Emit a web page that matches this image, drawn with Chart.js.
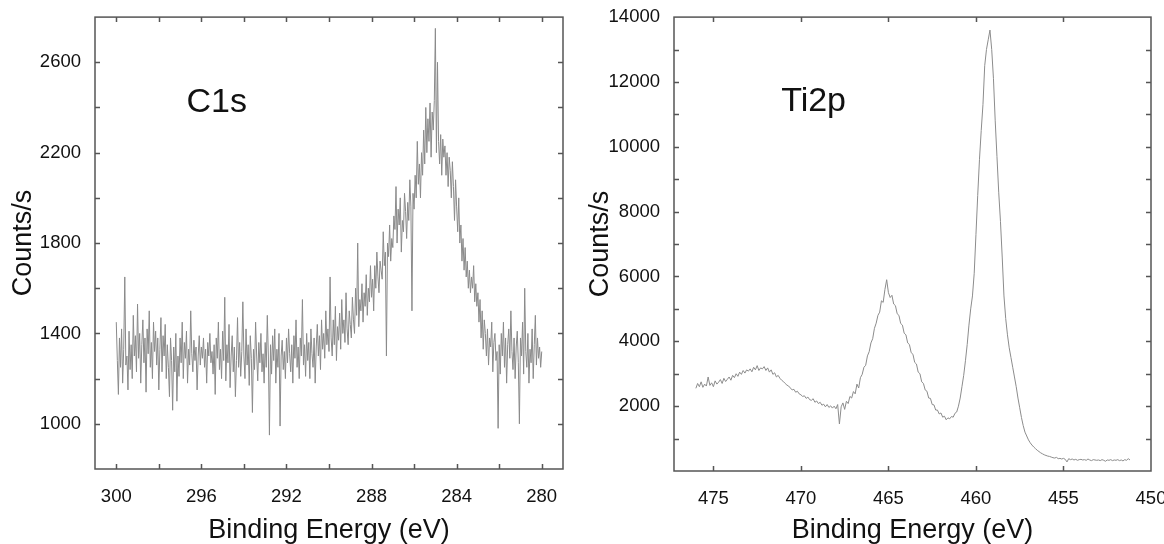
<!DOCTYPE html>
<html>
<head>
<meta charset="utf-8">
<script src="https://cdn.jsdelivr.net/npm/chart.js@4.4.1/dist/chart.umd.min.js"></script>
<style>
  html, body { margin: 0; padding: 0; background: #fff; width: 1164px; height: 544px; overflow: hidden; position: relative; }
  #leftBox { position: absolute; left: 0; top: 0; width: 580px; height: 544px; }
  #rightBox { position: absolute; left: 580px; top: 0; width: 600px; height: 544px; }
</style>
</head>
<body>
<div id="leftBox"><canvas id="c1s" width="580" height="544"></canvas></div>
<div id="rightBox"><canvas id="ti2p" width="600" height="544"></canvas></div>
<script>
// ---------- C1s data (binding energy 300.00 -> 280.00 eV, 0.05 eV steps) ----------
const c1sStart = 300.0;
const c1sStep = -0.05;
const c1sCounts = [
  1450, 1280, 1130, 1380, 1250, 1420, 1180, 1330, 1650, 1260, 1300, 1150, 1410, 1240, 1350, 1200, 1480, 1300, 1390, 1230,
  1530, 1290, 1400, 1180, 1350, 1460, 1270, 1380, 1140, 1420, 1310, 1500, 1250, 1360, 1200, 1450, 1320, 1410, 1260, 1380,
  1150, 1330, 1470, 1230, 1390, 1300, 1440, 1200, 1350, 1250, 1120, 1380, 1280, 1060, 1340, 1230, 1400, 1100, 1300, 1210,
  1380, 1270, 1450, 1200, 1360, 1290, 1410, 1180, 1330, 1260, 1500, 1310, 1230, 1370, 1280, 1340, 1150, 1300, 1390, 1260,
  1340, 1290, 1380, 1250, 1330, 1180, 1360, 1300, 1400, 1270, 1320, 1220, 1350, 1130, 1380, 1290, 1450, 1240, 1330, 1200,
  1410, 1280, 1560, 1190, 1350, 1270, 1440, 1160, 1300, 1390, 1230, 1340, 1120, 1280, 1470, 1250, 1360, 1210, 1320, 1540,
  1300, 1200, 1420, 1260, 1350, 1170, 1390, 1290, 1050, 1330, 1240, 1450, 1300, 1190, 1360, 1270, 1400, 1230, 1310, 1180,
  1360, 1250, 1480, 1300, 950, 1350, 1220, 1390, 1280, 1420, 1180, 1330, 1250, 1400, 990, 1300, 1370, 1240, 1320, 1200,
  1380, 1270, 1420, 1310, 1230, 1350, 1180, 1390, 1290, 1460, 1250, 1340, 1200, 1380, 1300, 1550, 1260, 1350, 1210, 1400,
  1280, 1360, 1200, 1420, 1310, 1250, 1380, 1180, 1340, 1440, 1300, 1390, 1240, 1460, 1330, 1400, 1290, 1500, 1350, 1420,
  1320, 1650, 1380, 1300, 1460, 1350, 1520, 1280, 1430, 1370, 1490, 1330, 1550, 1400, 1460, 1360, 1580, 1420, 1350, 1500,
  1440, 1380, 1560, 1460, 1400, 1600, 1480, 1800, 1430, 1550, 1500, 1620, 1450, 1580, 1520, 1660, 1480, 1600, 1540, 1700,
  1560, 1640, 1500, 1700, 1600, 1760, 1650, 1580, 1720, 1680, 1640, 1850, 1700, 1760, 1300, 1800, 1740, 1880, 1720, 1820,
  1780, 1920, 1860, 2050, 1800, 1950, 1880, 2000, 1760, 1900, 1850, 2020, 1940, 1820, 1980, 1900, 2080, 1960, 1500, 2020,
  1950, 2100, 2000, 2250, 2060, 2150, 2000, 2200, 2100, 2300, 2150, 2400, 2200, 2350, 2250, 2420, 2180, 2380, 2300, 2430,
  2750, 2200, 2600, 2250, 2150, 2280, 2100, 2260, 2180, 2230, 2100, 2200, 2050, 2180, 2120, 2000, 2160, 2050, 1900, 2080,
  1960, 1850, 2000, 1800, 1880, 1720, 1820, 1680, 1780, 1650, 1720, 1600, 1680, 1580, 1650, 1600, 1700, 1540, 1620, 1520,
  1580, 1450, 1550, 1380, 1500, 1330, 1460, 1400, 1300, 1420, 1260, 1380, 1340, 1450, 1230, 1360, 1400, 1280, 1320, 980,
  1350, 1220, 1400, 1300, 1450, 1250, 1380, 1180, 1350, 1420, 1290, 1500, 1320, 1240, 1380, 1200, 1340, 1410, 1270, 1000,
  1380, 1300, 1450, 1220, 1600, 1320, 1250, 1400, 1180, 1330, 1270, 1420, 1200, 1350, 1480, 1260, 1380, 1290, 1340, 1250,
  1320
];
const c1sXTicks = [280, 282, 284, 286, 288, 290, 292, 294, 296, 298, 300];
const c1sXLabels = [280, 284, 288, 292, 296, 300];
const c1sYTicks = [1000, 1200, 1400, 1600, 1800, 2000, 2200, 2400, 2600];
const c1sYLabels = [1000, 1400, 1800, 2200, 2600];

// ---------- Ti2p data (binding energy 476.0 -> 451.2 eV, 0.1 eV steps) ----------
const tiStart = 476.0;
const tiStep = -0.1;
const tiCounts = [
  2550, 2700, 2600, 2750, 2580, 2680, 2620, 2900, 2640, 2720,
  2600, 2780, 2680, 2740, 2820, 2700, 2860, 2760, 2830, 2900,
  2800, 2950, 2880, 3000, 2920, 3050, 2980, 3100, 3020, 3120,
  3080, 3150, 3060, 3200, 3120, 3250, 3100, 3180, 3150, 3220,
  3100, 3180, 3050, 3120, 2980, 3030, 2900, 2950, 2860, 2800,
  2760, 2700, 2650, 2620, 2560, 2500, 2520, 2430, 2460, 2380,
  2350, 2300, 2320, 2240, 2280, 2200, 2180, 2230, 2120, 2160,
  2080, 2120, 2030, 2060, 1980, 2050, 1960, 2010, 1940, 2000,
  1920, 2050, 1450, 1980, 2100, 1900, 2150, 2080, 2300, 2250,
  2450, 2380, 2680, 2560, 2880, 2980, 3200, 3260, 3550, 3680,
  3950, 4080, 4400, 4560, 4800, 4900, 5250, 5200, 5600, 5900,
  5500, 5350, 5420, 5150, 5100, 4850, 4800, 4550, 4500, 4250,
  4200, 3950, 3900, 3650, 3600, 3350, 3300, 3050, 3000, 2750,
  2700, 2500, 2460, 2250, 2240, 2050, 2040, 1880, 1880, 1760,
  1790, 1660, 1690, 1580, 1640, 1610, 1680, 1660, 1780, 1820,
  2000, 2250, 2600, 2950, 3400, 3900, 4500, 5000, 5400, 6100,
  7300, 8500, 9600, 10500, 11300, 12500, 13000, 13300, 13600, 13000,
  12100, 10800, 9700, 8600, 7700, 6600, 5400, 4700, 4200, 3800,
  3500, 3200, 2900, 2600, 2250, 1950, 1650, 1400, 1200, 1080,
  960, 870, 800, 740, 690, 640, 600, 560, 530, 500,
  480, 460, 450, 430, 410, 400, 420, 380, 390, 370,
  390, 360, 280, 380, 350, 370, 340, 360, 330, 350,
  360, 340, 350, 330, 370, 340, 320, 350, 340, 330,
  340, 320, 350, 330, 300, 340, 330, 350, 320, 340,
  330, 350, 320, 340, 310, 350, 330, 380, 340
];
const tiXTicks = [450, 455, 460, 465, 470, 475];
const tiXLabels = [450, 455, 460, 465, 470, 475];
const tiYTicks = [1000, 2000, 3000, 4000, 5000, 6000, 7000, 8000, 9000, 10000, 11000, 12000, 13000, 14000];
const tiYLabels = [2000, 4000, 6000, 8000, 10000, 12000, 14000];

// ---------- helpers ----------
const FONT = "'Liberation Sans', Arial, Helvetica, sans-serif";
const toPoints = (start, step, arr) => arr.map((v, i) => ({ x: +(start + step * i).toFixed(2), y: v }));

const boxTicks = {
  id: 'boxTicks',
  afterDraw(chart, args, o) {
    const { ctx, chartArea: a, scales } = chart;
    const xs = scales.x, ys = scales.y;
    ctx.save();
    ctx.strokeStyle = o.color;
    ctx.lineWidth = o.width;
    ctx.strokeRect(a.left, a.top, a.right - a.left, a.bottom - a.top);
    ctx.beginPath();
    xs.ticks.forEach(t => {
      if (t.value <= xs.min || t.value >= xs.max) return;
      const p = Math.round(xs.getPixelForValue(t.value)) + 0.5;
      ctx.moveTo(p, a.bottom); ctx.lineTo(p, a.bottom - o.length);
      ctx.moveTo(p, a.top); ctx.lineTo(p, a.top + o.length);
    });
    ys.ticks.forEach(t => {
      if (t.value <= ys.min || t.value >= ys.max) return;
      const p = Math.round(ys.getPixelForValue(t.value)) + 0.5;
      ctx.moveTo(a.left, p); ctx.lineTo(a.left + o.length, p);
      ctx.moveTo(a.right, p); ctx.lineTo(a.right - o.length, p);
    });
    ctx.stroke();
    const lab = o.label;
    ctx.fillStyle = '#111';
    ctx.font = lab.size + 'px ' + FONT;
    ctx.textAlign = 'left';
    ctx.textBaseline = 'alphabetic';
    ctx.fillText(lab.text, xs.getPixelForValue(lab.x), ys.getPixelForValue(lab.y));
    ctx.restore();
  }
};

function makeChart(id, cfg) {
  new Chart(document.getElementById(id), {
    type: 'scatter',
    data: {
      datasets: [{
        data: cfg.points,
        showLine: true,
        borderColor: cfg.lineColor,
        borderWidth: 1,
        pointRadius: 0,
        pointHoverRadius: 0,
        tension: 0,
        fill: false
      }]
    },
    plugins: [boxTicks],
    options: {
      responsive: false,
      animation: false,
      events: [],
      layout: { padding: { top: cfg.top, right: cfg.right, left: 0, bottom: 0 } },
      plugins: {
        legend: { display: false },
        tooltip: { enabled: false },
        boxTicks: { color: '#555', width: 1.5, length: 5, label: cfg.label }
      },
      scales: {
        x: {
          type: 'linear',
          reverse: true,
          min: cfg.xMin,
          max: cfg.xMax,
          grid: { display: false },
          border: { display: false },
          afterBuildTicks: s => { s.ticks = cfg.xTicks.map(v => ({ value: v })); },
          afterFit: s => { s.height = cfg.xAxisHeight; },
          ticks: {
            autoSkip: false, maxRotation: 0, padding: 9, color: '#111',
            font: { family: FONT, size: 18.5 },
            callback: v => cfg.xLabels.includes(v) ? String(v) : ''
          },
          title: {
            display: true, text: 'Binding Energy (eV)', color: '#111',
            font: { family: FONT, size: 27 }, padding: { top: 0, bottom: -3 }
          }
        },
        y: {
          type: 'linear',
          min: cfg.yMin,
          max: cfg.yMax,
          grid: { display: false },
          border: { display: false },
          afterBuildTicks: s => { s.ticks = cfg.yTicks.map(v => ({ value: v })); },
          afterFit: s => { s.width = cfg.yAxisWidth; },
          ticks: {
            autoSkip: false, padding: 6, color: '#111',
            font: { family: FONT, size: 18.5 },
            callback: v => cfg.yLabels.includes(v) ? String(v) : ''
          },
          title: {
            display: true, text: 'Counts/s', color: '#111',
            font: { family: FONT, size: 27 }, padding: { top: cfg.yTitlePad, bottom: 0 }
          }
        }
      }
    }
  });
}

makeChart('c1s', {
  points: toPoints(c1sStart, c1sStep, c1sCounts),
  lineColor: '#8a8a8a',
  xMin: 279, xMax: 301, yMin: 800, yMax: 2800,
  xTicks: c1sXTicks, xLabels: c1sXLabels, yTicks: c1sYTicks, yLabels: c1sYLabels,
  top: 16, right: 17, xAxisHeight: 75, yAxisWidth: 95, yTitlePad: 7,
  label: { text: 'C1s', x: 296.7, y: 2380, size: 34 }
});

makeChart('ti2p', {
  points: toPoints(tiStart, tiStep, tiCounts),
  lineColor: '#8c8c8c',
  xMin: 450, xMax: 477.25, yMin: 0, yMax: 14000,
  xTicks: tiXTicks, xLabels: tiXLabels, yTicks: tiYTicks, yLabels: tiYLabels,
  top: 16, right: 29, xAxisHeight: 73, yAxisWidth: 94, yTitlePad: 4,
  label: { text: 'Ti2p', x: 471.13, y: 11100, size: 34 }
});
</script>
</body>
</html>
